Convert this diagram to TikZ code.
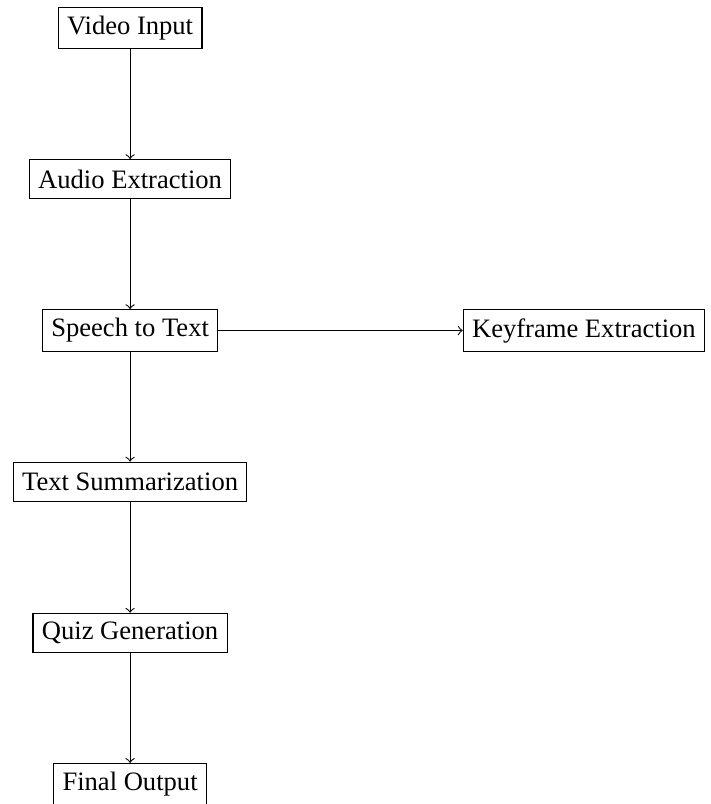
\documentclass[tikz,border=0pt]{standalone}
\usepackage{fontspec}
\setmainfont{Liberation Serif}
\usetikzlibrary{positioning}
\begin{document}
\begin{tikzpicture}[node distance=2cm, on grid, stage/.style={draw, rectangle, minimum height=0.52cm}]
    \useasboundingbox (-1.72,0.37) rectangle (7.67,-10.26);

    % Main pipeline
    \node[stage] (video) {Video Input};
    \node[stage, below=of video] (audio) {Audio Extraction};
    \node[stage, below=of audio] (speech) {Speech to Text};
    \node[stage, right=6cm of speech] (keyframe) {Keyframe Extraction};
    \node[stage, below=of speech] (summary) {Text Summarization};
    \node[stage, below=of summary] (quiz) {Quiz Generation};
    \node[stage, below=of quiz] (final) {Final Output};

    % Connections
    \draw[->] (video) -- (audio);
    \draw[->] (audio) -- (speech);
    \draw[->] (speech) -- (keyframe);
    \draw[->] (speech) -- (summary);
    \draw[->] (summary) -- (quiz);
    \draw[->] (quiz) -- (final);
\end{tikzpicture}
\end{document}
